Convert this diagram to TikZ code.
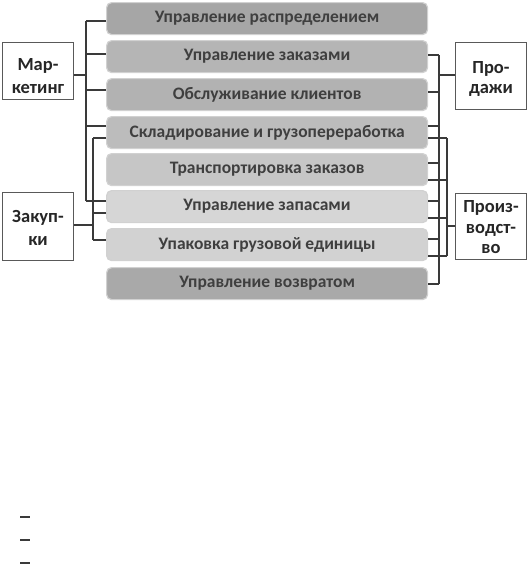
\documentclass[tikz,border=0pt]{standalone}
\usepackage{fontspec}
\setmainfont{Carlito}
\definecolor{txt}{HTML}{3F3F3F}
\definecolor{ln}{HTML}{3A3A3A}
\definecolor{c1}{HTML}{A6A6A6}
\definecolor{c2}{HTML}{B5B5B5}
\definecolor{c3}{HTML}{B2B2B2}
\definecolor{c4}{HTML}{BCBCBC}
\definecolor{c5}{HTML}{C6C6C6}
\definecolor{c6}{HTML}{D6D6D6}
\definecolor{c7}{HTML}{D2D2D2}
\definecolor{c8}{HTML}{A9A9A9}
\begin{document}
\begin{tikzpicture}[x=1pt,y=-1pt,
  bar/.style={draw=white!82!black,line width=1.2pt,rounded corners=5pt,
    minimum width=321pt,minimum height=32pt,inner sep=0pt,anchor=north west,
    font=\bfseries\fontsize{17.5}{19}\selectfont,text=txt},
  side/.style={draw=black!65,line width=1pt,fill=white,inner sep=0pt,anchor=north west},
  sidetext/.style={inner sep=0pt,font=\bfseries\fontsize{18.5}{20.5}\selectfont,text=black!85,align=center},
  conn/.style={draw=ln,line width=1.6pt}]
\useasboundingbox (0,0) rectangle (529,573);
% bars
\node[bar,fill=c1] (b1) at (106,2)   {Управление распределением};
\node[bar,fill=c2] (b2) at (106,40)  {Управление заказами};
\node[bar,fill=c3] (b3) at (106,78)  {Обслуживание клиентов};
\node[bar,fill=c4] (b4) at (106,116) {Складирование и грузопереработка};
\node[bar,fill=c5] (b5) at (106,153) {Транспортировка заказов};
\node[bar,fill=c6] (b6) at (106,190) {Управление запасами};
\node[bar,fill=c7] (b7) at (106,228) {Упаковка грузовой единицы};
\node[bar,fill=c8] (b8) at (106,267) {Управление возвратом};
% side boxes
\node[side,minimum width=71pt,minimum height=57pt] (M) at (2,42) {};
\node[side,minimum width=71pt,minimum height=68pt] (Z) at (2,192) {};
\node[side,minimum width=71pt,minimum height=67pt] (P) at (455,42) {};
\node[side,minimum width=71pt,minimum height=66pt] (Pr) at (455,193) {};
\node[sidetext] (Mt) at ([yshift=-5pt]M.center) {Мар-\\[2.5pt]кетинг};
\node[sidetext] (Zt) at ([yshift=-1.5pt]Z.center) {Закуп-\\[2.5pt]ки};
\node[sidetext] (Pt) at ([yshift=-3pt]P.center) {Про-\\дажи};
\node[sidetext] (Prt) at ([yshift=-1pt]Pr.center) {Произ-\\водст-\\во};
% bus coordinates
\coordinate (mTop) at (86,21);  \coordinate (mBot) at (86,201);
\coordinate (zTop) at (93,138); \coordinate (zBot) at (93,240);
\coordinate (pTop) at (439,55); \coordinate (pBot) at (439,284);
\coordinate (rTop) at (447,138); \coordinate (rBot) at (447,256);
\draw[conn] (mTop) -- (mBot);
\draw[conn] (zTop) -- (zBot);
\draw[conn] (pTop) -- (pBot);
\draw[conn] (rTop) -- (rBot);
% Marketing
\coordinate (mE) at (M.east |- 0,75);
\draw[conn] (mE) -- (mE -| mTop);
\foreach \b/\y in {b1/21,b2/54,b3/90,b4/126,b6/201}{
  \coordinate (t) at (\b.west |- 0,\y);
  \draw[conn] (t) -- (t -| mTop);
}
% Purchasing
\coordinate (zE) at (Z.east |- 0,225);
\draw[conn] (zE) -- (zE -| zTop);
\foreach \b/\y in {b4/138,b6/213,b7/240}{
  \coordinate (t) at (\b.west |- 0,\y);
  \draw[conn] (t) -- (t -| zTop);
}
% Sales
\coordinate (pW) at (P.west |- 0,75);
\draw[conn] (pW) -- (pW -| pTop);
\foreach \b/\y in {b2/55,b3/92,b4/126,b5/163,b6/201,b7/239,b8/284}{
  \coordinate (t) at (\b.east |- 0,\y);
  \draw[conn] (t) -- (t -| pTop);
}
% Production
\coordinate (rW) at (Pr.west |- 0,226);
\draw[conn] (rW) -- (rW -| rTop);
\foreach \b/\y in {b4/138,b5/180,b6/218,b7/256}{
  \coordinate (t) at (\b.east |- 0,\y);
  \draw[conn] (t) -- (t -| rTop);
}
% small dashes
\coordinate (d1) at (20,517); \coordinate (d2) at (20,540); \coordinate (d3) at (20,563);
\foreach \d in {d1,d2,d3}{ \draw[ln,line width=1.2pt] (\d) -- ++(10,0); }
\end{tikzpicture}
\end{document}
